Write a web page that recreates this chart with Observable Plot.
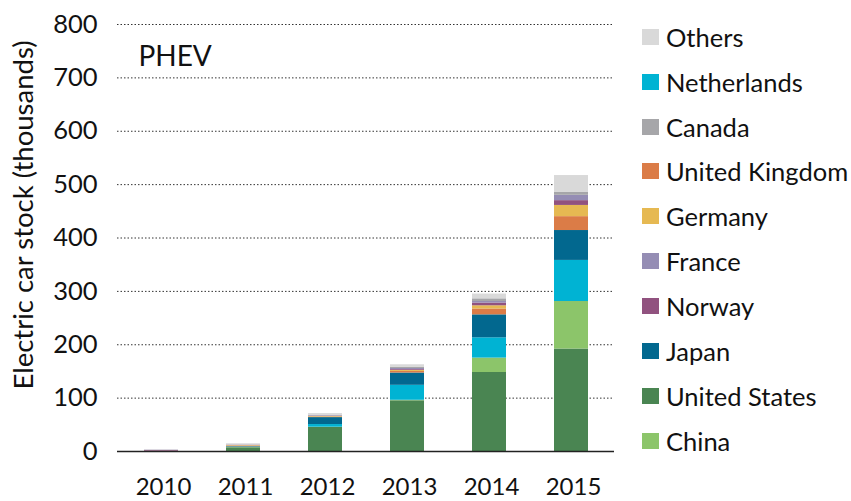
<!DOCTYPE html>
<html>
<head>
<meta charset="utf-8">
<script src="https://cdn.jsdelivr.net/npm/d3@7"></script>
<script src="https://cdn.jsdelivr.net/npm/@observablehq/plot@0.6"></script>
<style>
  html, body { margin: 0; padding: 0; background: #fff; }
  #wrap { position: relative; width: 851px; height: 501px; font-family: Lato, "Open Sans", sans-serif; color: #111; }
  #legend { position: absolute; left: 642px; top: 0; }
  .item { position: absolute; left: 0; display: flex; align-items: center; white-space: nowrap; font-size: 25.5px; color: #111; }
  .sw { width: 17px; height: 16px; margin-right: 7px; }
  #ytitle { position: absolute; left: 23px; top: 215px; transform: translate(-50%, -50%) rotate(-90deg); white-space: nowrap; font-size: 27.5px; line-height: 1; }
  .yt text { font-size: 25.5px; }
</style>
</head>
<body>
<div id="wrap"><div id="chart"></div><div id="ytitle">Electric car stock (thousands)</div><div id="legend"></div></div>
<script>
const years = ["2010", "2011", "2012", "2013", "2014", "2015"];
// stacking order, bottom to top
const countries = ["United States", "China", "Netherlands", "Japan", "United Kingdom", "Germany", "Norway", "France", "Canada", "Others"];
const colors = ["#4a8552", "#8cc56a", "#00b3d3", "#02688f", "#db7c47", "#e6b952", "#91527f", "#958db4", "#a6a6a9", "#d9d9d9"];
// values in thousands, per year (2010..2015)
const unitedStates = [0.3, 7, 45, 95, 148, 192];
const china        = [0.2, 0.5, 0.5, 1, 27, 89];
const netherlands  = [0, 0.5, 5, 28, 38, 77];
const japan        = [0, 1, 13, 23, 43, 56];
const unitedKingdom= [0, 1, 1, 3, 11, 26];
const germany      = [0, 1, 1, 2, 6, 21];
const norway       = [1.5, 0.5, 0.5, 1.5, 5, 9];
const france       = [0.5, 0.5, 1, 2, 3, 10];
const canada       = [0, 0.5, 1, 2, 5, 6];
const others       = [0.5, 2, 3, 5, 9, 31];
const legendOrder = ["Others", "Netherlands", "Canada", "United Kingdom", "Germany", "France", "Norway", "Japan", "United States", "China"];
const yTicks = [0, 100, 200, 300, 400, 500, 600, 700, 800];

const series = [unitedStates, china, netherlands, japan, unitedKingdom, germany, norway, france, canada, others];
const data = [];
years.forEach((y, i) => {
  countries.forEach((c, k) => data.push({year: y, country: c, value: series[k][i]}));
});

const chart = Plot.plot({
  width: 851,
  height: 501,
  marginLeft: 117,
  marginRight: 237,
  marginTop: 24,
  marginBottom: 50,
  style: {fontFamily: "Lato, 'Open Sans', sans-serif", fontSize: "24px", color: "#111"},
  x: {domain: years, paddingInner: 0.586, paddingOuter: 0.316, label: null, axis: null},
  y: {domain: [0, 800], label: null, axis: null},
  color: {domain: countries, range: colors},
  marks: [
    Plot.axisY(yTicks, {tickSize: 0, tickPadding: 20, label: null, className: "yt"}),
    Plot.axisX({tickSize: 0, tickPadding: 26, label: null, dx: 2}),
    Plot.ruleY(yTicks.filter(d => d > 0), {stroke: "#333", strokeWidth: 1, strokeDasharray: "1.5,2"}),
    Plot.barY(data, Plot.stackY({order: countries, x: "year", y: "value", fill: "country"})),
    Plot.ruleY([0], {stroke: "#222", strokeWidth: 1.5}),
    Plot.text(["PHEV"], {frameAnchor: "top-left", dx: 21, dy: 22, fontSize: 28, fill: "#111", textAnchor: "start"})
  ]
});
document.getElementById("chart").appendChild(chart);

const legend = document.getElementById("legend");
legendOrder.forEach((c, i) => {
  const div = document.createElement("div");
  div.className = "item";
  div.style.top = (36.7 + i * 44.9 - 14) + "px";
  div.style.height = "28px";
  const sw = document.createElement("span");
  sw.className = "sw";
  sw.style.background = colors[countries.indexOf(c)];
  const t = document.createElement("span");
  t.textContent = c;
  div.appendChild(sw); div.appendChild(t);
  legend.appendChild(div);
});
</script>
</body>
</html>
